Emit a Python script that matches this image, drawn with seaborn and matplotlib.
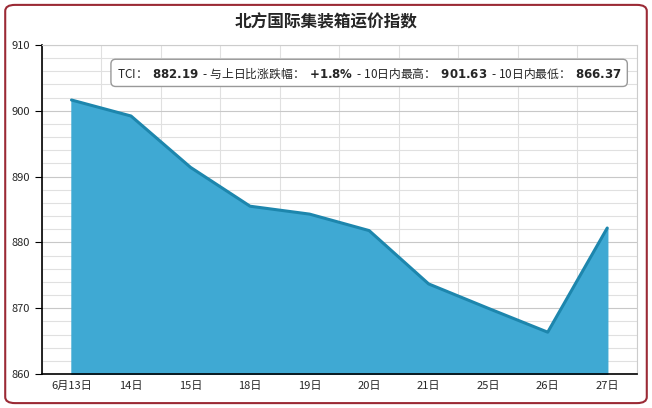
import matplotlib
matplotlib.use("Agg")
import matplotlib.pyplot as plt
import seaborn as sns
import pandas as pd
import numpy as np
from matplotlib.patches import FancyBboxPatch

dates = ["6月13日", "14日", "15日", "18日", "19日", "20日", "21日", "25日", "26日", "27日"]
tci = [901.63, 899.2, 891.4, 885.5, 884.3, 881.8, 873.7, 870.0, 866.37, 882.19]

sns.set_style("white")
plt.rcParams['font.family'] = ['Noto Sans CJK SC', 'DejaVu Sans']

df = pd.DataFrame({"pos": np.arange(len(dates)), "tci": tci})

fig = plt.figure(figsize=(6.52, 4.08), dpi=100)
fig.patches.append(FancyBboxPatch((0.008, 0.012), 0.984, 0.976,
                                  boxstyle="round,pad=0,rounding_size=0.015",
                                  transform=fig.transFigure, fc="white",
                                  ec="#9b2a35", lw=1.5, zorder=-1))
ax = fig.add_axes([0.064, 0.083, 0.913, 0.807])

ax.fill_between(df["pos"], df["tci"], 860, color="#3fa9d3", zorder=2)
sns.lineplot(data=df, x="pos", y="tci", ax=ax, color="#1d86ad", lw=2.2, zorder=3)

ax.set_xlim(-0.5, len(dates) - 0.5)
ax.set_ylim(860, 910)
ax.set_yticks(range(860, 911, 10))
ax.set_yticks(range(860, 911, 2), minor=True)
ax.set_xticks(np.arange(len(dates)))
ax.set_xticklabels(dates)
ax.set_xticks(np.arange(len(dates) + 1) - 0.5, minor=True)
ax.grid(which="minor", color="#e0e0e0", lw=0.8, zorder=0)
ax.grid(which="major", axis="y", color="#c8c8c8", lw=0.8, zorder=0)
ax.tick_params(axis="x", which="major", length=0, labelsize=8, pad=5)
ax.tick_params(axis="x", which="minor", length=5, color="black", direction="out")
ax.tick_params(axis="y", which="major", length=5, labelsize=8, left=True, color="black")
ax.tick_params(axis="y", which="minor", length=0)
ax.set_xlabel("")
ax.set_ylabel("")
for s in ["left", "bottom"]:
    ax.spines[s].set_color("black")
    ax.spines[s].set_linewidth(1.2)
for s in ["top", "right"]:
    ax.spines[s].set_color("#cccccc")

fig.text(0.5, 0.945, "北方国际集装箱运价指数", ha="center", va="center",
         fontsize=12, fontweight="bold")
ax.text(0.55, 0.915,
        "TCI：  $\\bf{882.19}$  - 与上日比涨跌幅：  $\\bf{+1.8\\%}$  - 10日内最高：  $\\bf{901.63}$  - 10日内最低：  $\\bf{866.37}$",
        transform=ax.transAxes, ha="center", va="center", fontsize=8.5, zorder=5,
        bbox=dict(boxstyle="round,pad=0.5,rounding_size=0.4", fc="white", ec="#999999", lw=1))

fig.savefig("out.png", dpi=100)
